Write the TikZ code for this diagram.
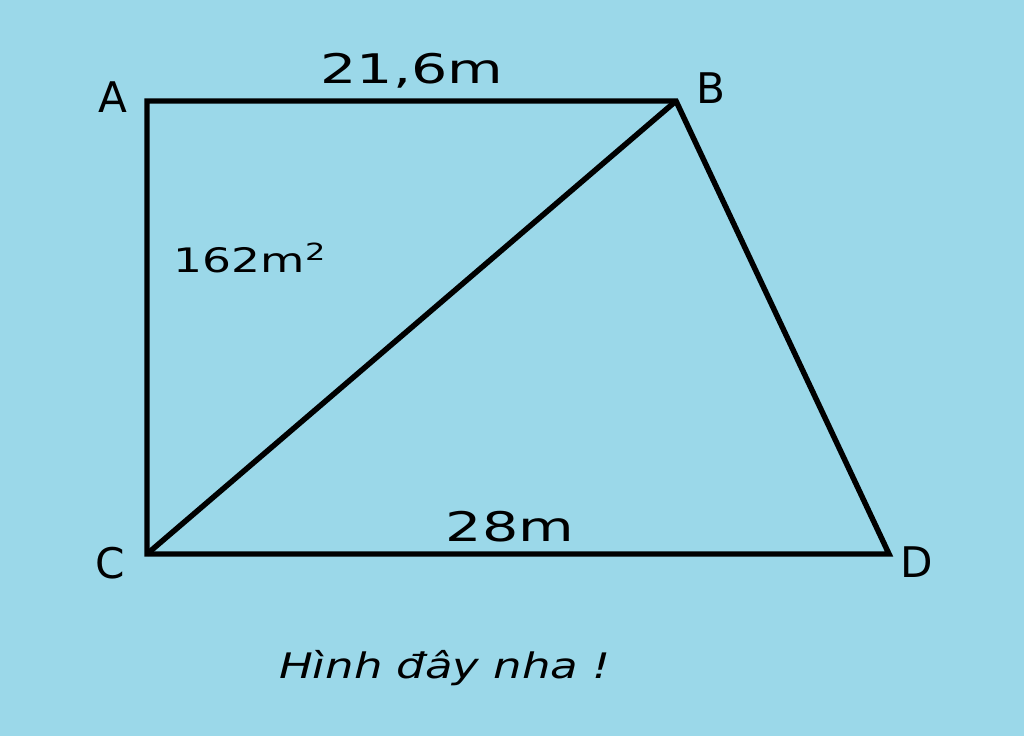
\documentclass[tikz,border=0pt]{standalone}
\usepackage{fontspec}
\setmainfont{DejaVu Sans}
\usepackage{xcolor}
\usetikzlibrary{positioning}
\definecolor{skyblue}{RGB}{155,216,233}

\begin{document}
\begin{tikzpicture}[x=0.025cm,y=-0.025cm]

\tikzset{side/.style={line width=3.9pt, line join=miter}}
\tikzset{vlabel/.style={font=\fontsize{30}{30}\selectfont}}
\tikzset{mlabel/.style={font=\fontsize{29}{29}\selectfont, xscale=1.4}}

% Background
\fill[skyblue] (0,0) rectangle (1024,736);
\useasboundingbox (0,0) rectangle (1024,736);

% The corners
\coordinate (A) at (147,101);
\coordinate (B) at (676,101);
\coordinate (C) at (147,554);
\coordinate (D) at (889,554);

% The sides
\draw[side] (B) -- (A) -- (C) -- (D) -- cycle;
\draw[side] (C) -- (B);

% Corner names
\node[vlabel] (nA) at (113,97) {A};
\node[vlabel] (nB) at (711,88) {B};
\node[vlabel] (nC) at (110,563) {C};
\node[vlabel] (nD) at (917,562) {D};

% Measures
\node[mlabel] (top) at (412,71) {21,6m};
\node[font=\fontsize{24}{24}\selectfont, xscale=1.35] (area) at (250,258) {162m\textsuperscript{2}};
\node[mlabel] (bottom) at (510,527) {28m};

% Caption
\node[font=\fontsize{25}{25}\selectfont\itshape, xscale=1.28] (note) at (445,668) {Hình đây nha !};

\end{tikzpicture}
\end{document}
